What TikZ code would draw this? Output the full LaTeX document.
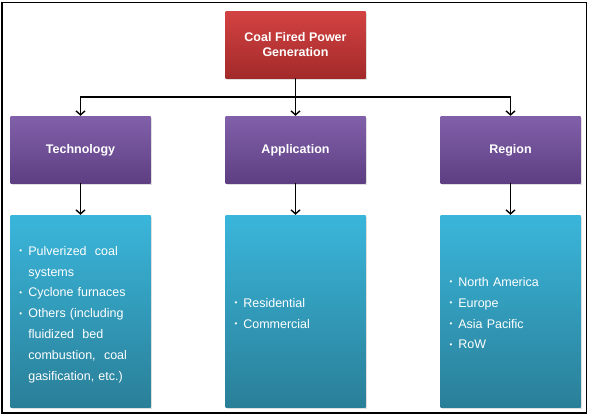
\documentclass[tikz,border=0pt]{standalone}
\usepackage{fontspec}
\setmainfont{Liberation Sans}
\usetikzlibrary{positioning,arrows.meta,shadows}
\usepackage{xcolor}
\definecolor{redtop}{HTML}{D34242}
\definecolor{redbot}{HTML}{A32A2A}
\definecolor{purtop}{HTML}{8160AA}
\definecolor{purbot}{HTML}{5E3F82}
\definecolor{blutop}{HTML}{3AB6DB}
\definecolor{blubot}{HTML}{2A7F98}
\newcommand{\bul}{\raisebox{1.6pt}{\fontsize{8}{8}\selectfont\textbullet}}
\newcommand{\listtab}[1]{\raisebox{-2.6pt}[\height][\depth]{\begin{tabular}{@{}l@{\hspace{6pt}}l@{}}#1\end{tabular}}}
\tikzset{
  rootbox/.style={top color=redtop,bottom color=redbot,minimum width=140pt,minimum height=67pt,
    text=white,align=center,font=\bfseries\fontsize{12.5}{15}\selectfont,
    drop shadow={opacity=.25,shadow xshift=1.5pt,shadow yshift=-1.5pt}},
  catbox/.style={top color=purtop,bottom color=purbot,minimum width=140pt,minimum height=67pt,
    text=white,font=\bfseries\fontsize{12.5}{15}\selectfont,text height=9pt,text depth=1.5pt,
    drop shadow={opacity=.25,shadow xshift=1.5pt,shadow yshift=-1.5pt}},
  listbox/.style={top color=blutop,bottom color=blubot,minimum width=140pt,minimum height=192pt,
    text width=122pt,inner xsep=9pt,align=left,text=white,font=\fontsize{12.5}{20.8}\selectfont,
    drop shadow={opacity=.25,shadow xshift=1.5pt,shadow yshift=-1.5pt}},
  arr/.style={-{Straight Barb[length=4pt,width=9pt]},line width=1.4pt,black}
}
\begin{document}
\begin{tikzpicture}[x=1pt,y=-1pt]
        \useasboundingbox (0,0) rectangle (589,416);
        % Marco
        \draw[line width=1.3pt] (2,2.5) rectangle (586.5,413);
        % Cajas
        \node[rootbox] (root) at (295.5,44.5) {Coal Fired Power\\Generation};
        \node[catbox] (tech) at (80.5,149.5) {Technology};
        \node[catbox] (app) at (295.5,149.5) {Application};
        \node[catbox] (reg) at (510.5,149.5) {Region};
        \node[listbox] (techlist) at (80.5,311) {\listtab{%
          \bul & Pulverized \ coal\\ & systems\\
          \bul & Cyclone furnaces\\
          \bul & Others (including\\ & fluidized \ bed\\ & combustion, \ coal\\ & gasification, etc.)}};
        \node[listbox] (applist) at (295.5,311) {\listtab{%
          \bul & Residential\\
          \bul & Commercial}};
        \node[listbox] (reglist) at (510.5,311) {\listtab{%
          \bul & North America\\
          \bul & Europe\\
          \bul & Asia Pacific\\
          \bul & RoW}};
        % Conectores
        \coordinate (bus) at (root.south |- 0,97);
        \draw[arr] (root.south) -- (app.north);
        \draw[arr] (bus) -| (tech.north);
        \draw[arr] (bus) -| (reg.north);
        \foreach \a/\b in {tech/techlist,app/applist,reg/reglist}{
          \draw[arr] (\a.south) -- (\b.north);}
      \end{tikzpicture}
\end{document}
